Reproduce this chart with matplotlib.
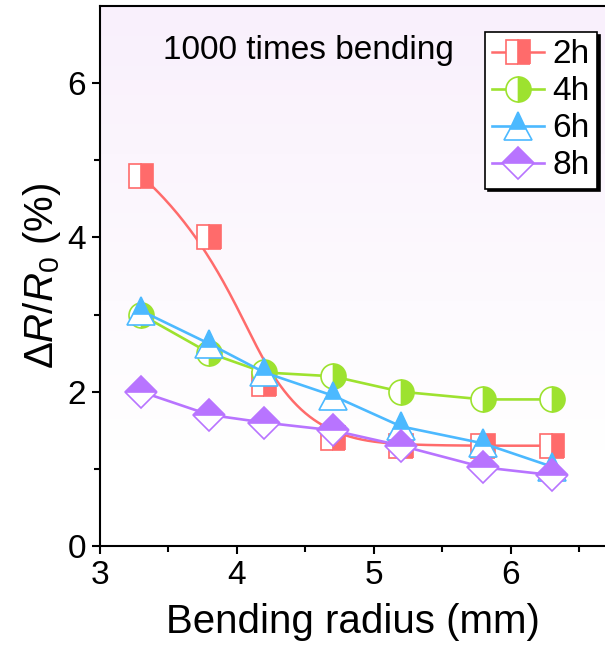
import numpy as np
import matplotlib.pyplot as plt
from matplotlib.colors import LinearSegmentedColormap

plt.rcParams['font.family'] = ['Liberation Sans', 'DejaVu Sans']
plt.rcParams['mathtext.fontset'] = 'custom'
plt.rcParams['mathtext.rm'] = 'Liberation Sans'
plt.rcParams['mathtext.it'] = 'Liberation Sans:italic'

# 数据
radius = [3.3, 3.8, 4.2, 4.7, 5.2, 5.8, 6.3]
r_2h = [4.8, 4.0, 2.1, 1.4, 1.3, 1.3, 1.3]
r_4h = [3.0, 2.5, 2.25, 2.2, 2.0, 1.9, 1.9]
r_6h = [3.05, 2.62, 2.25, 1.95, 1.55, 1.33, 1.03]
r_8h = [2.0, 1.7, 1.6, 1.5, 1.3, 1.02, 0.92]
labels = ['2h', '4h', '6h', '8h']


def bspline(x, y, num=400):
    # 三次B样条（数据点作控制点，两端夹紧）
    P = np.column_stack([x, y]).astype(float)
    n = len(P)
    k = 3
    knots = np.concatenate([np.zeros(k), np.arange(n - k + 1), np.full(k, n - k)]).astype(float)
    t = np.linspace(0, n - k, num)
    t[-1] -= 1e-9
    # Cox-de Boor
    B = np.zeros((num, len(knots) - 1))
    for i in range(len(knots) - 1):
        B[:, i] = (t >= knots[i]) & (t < knots[i + 1])
    for d in range(1, k + 1):
        Bn = np.zeros((num, len(knots) - 1 - d))
        for i in range(len(knots) - 1 - d):
            a = knots[i + d] - knots[i]
            b = knots[i + d + 1] - knots[i + 1]
            left = (t - knots[i]) / a * B[:, i] if a > 0 else 0
            right = (knots[i + d + 1] - t) / b * B[:, i + 1] if b > 0 else 0
            Bn[:, i] = left + right
        B = Bn
    C = B @ P
    return C[:, 0], C[:, 1]


fig = plt.figure(figsize=(6.05, 6.52), dpi=100)
ax = fig.add_axes([100 / 605, 106 / 652, 505 / 605, 540 / 652])

# 背景渐变
cmap = LinearSegmentedColormap.from_list('bg', [(0, '#ffffff'), (0.18, '#ffffff'), (1, '#f9f0fc')])
grad = np.linspace(0, 1, 256).reshape(-1, 1)
ax.imshow(grad, extent=[0, 1, 0, 1], transform=ax.transAxes, cmap=cmap,
          origin='lower', aspect='auto', zorder=0)

red = '#ff6b6b'
green = '#9de22f'
blue = '#4cb9ff'
purple = '#b874ff'

cx, cy = bspline(radius, r_2h)
ax.plot(cx, cy, color=red, lw=1.8, zorder=2)
ax.plot(radius, r_2h, ls='none', marker='s', ms=17, mfc=red, mfcalt='white',
        fillstyle='right', mec=red, mew=1.2, zorder=3)
h2, = ax.plot([], [], color=red, lw=1.8, marker='s', ms=17, mfc=red, mfcalt='white',
              fillstyle='right', mec=red, mew=1.2)

h4, = ax.plot(radius, r_4h, color=green, lw=1.9, marker='o', ms=18, mfc=green,
              mfcalt='white', fillstyle='right', mec=green, mew=1.2, zorder=3)
h6, = ax.plot(radius, r_6h, color=blue, lw=1.9, marker='^', ms=20, mfc=blue,
              mfcalt='white', fillstyle='top', mec=blue, mew=1.2, zorder=3)
h8, = ax.plot(radius, r_8h, color=purple, lw=1.9, marker='D', ms=16, mfc=purple,
              mfcalt='white', fillstyle='top', mec=purple, mew=1.2, zorder=3)

ax.set_xlim(3, 6.69)
ax.set_ylim(0, 7)
ax.set_xticks([3, 4, 5, 6])
ax.set_xticks([3.5, 4.5, 5.5, 6.5], minor=True)
ax.set_yticks([0, 2, 4, 6])
ax.set_yticks([1, 3, 5], minor=True)
ax.tick_params(which='major', direction='out', length=6, width=1.5, labelsize=24, pad=4)
ax.tick_params(which='minor', direction='out', length=4, width=1.5)
for s in ['left', 'bottom', 'top']:
    ax.spines[s].set_linewidth(1.5)
ax.spines['right'].set_visible(False)

ax.set_xlabel('Bending radius (mm)', fontsize=29, labelpad=9)
ax.set_ylabel(r'$\mathit{\Delta}R/R_\mathrm{0}$ (%)', fontsize=29, labelpad=3)

ax.text(0.125, 0.918, '1000 times bending', transform=ax.transAxes,
        fontsize=24, va='center', ha='left')

leg = ax.legend([h2, h4, h6, h8], labels, loc='upper right',
                bbox_to_anchor=(0.984, 0.952), borderaxespad=0, fontsize=24,
                frameon=True, fancybox=False, edgecolor='black',
                shadow={'color': 'black', 'alpha': 1}, handlelength=1.55,
                handletextpad=0.25, labelspacing=0.18, borderpad=0.22)
leg.get_frame().set_linewidth(1.2)

fig.savefig('out.png', dpi=100)
